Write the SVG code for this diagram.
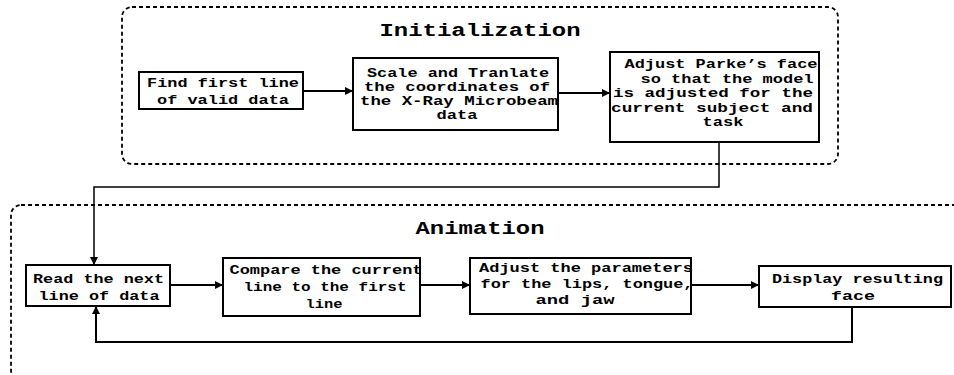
<svg xmlns="http://www.w3.org/2000/svg" width="954" height="375" viewBox="0 0 954 375">
  <style>
    .group { fill: none; stroke: #000; stroke-width: 1.8; stroke-dasharray: 4 3; }
    .box { fill: #fff; stroke: #000; stroke-width: 2; }
    .wire { fill: none; stroke: #000; stroke-width: 2; }
    .thin { fill: none; stroke: #000; stroke-width: 1.5; }
    text { font-family: "Courier New", "Nimbus Mono PS", "FreeMono", "Liberation Mono", monospace; font-weight: bold; fill: #000; text-anchor: middle; }
    .t { font-size: 12.5px; }
    .h { font-size: 18px; }
  </style>
  <defs>
    <marker id="arrow" viewBox="0 0 10 10" refX="10" refY="5" markerWidth="8" markerHeight="8" markerUnits="userSpaceOnUse" orient="auto">
      <path d="M0,0 L10,5 L0,10 z" fill="#000"/>
    </marker>
  </defs>

  <!-- stage frames -->
  <g id="initialization">
    <rect class="group" x="122" y="7" width="716" height="157" rx="10" ry="10"/>
    <text class="h" x="480" y="36" textLength="201" lengthAdjust="spacingAndGlyphs">Initialization</text>
  </g>
  <g id="animation">
    <rect class="group" x="11" y="205" width="960" height="175" rx="10" ry="10"/>
    <text class="h" x="480" y="234" textLength="129" lengthAdjust="spacingAndGlyphs">Animation</text>
  </g>

  <!-- connectors -->
  <g id="connectors">
    <line class="wire" x1="303" y1="91" x2="353" y2="91" marker-end="url(#arrow)"/>
    <line class="wire" x1="558" y1="93" x2="610" y2="93" marker-end="url(#arrow)"/>
    <polyline class="thin" points="719,142 719,187 94,187 94,265" marker-end="url(#arrow)"/>
    <line class="wire" x1="170" y1="285" x2="223" y2="285" marker-end="url(#arrow)"/>
    <line class="wire" x1="420" y1="285" x2="470" y2="285" marker-end="url(#arrow)"/>
    <line class="wire" x1="691" y1="285" x2="759" y2="285" marker-end="url(#arrow)"/>
    <polyline class="wire" points="852,307 852,342 96,342 96,306" marker-end="url(#arrow)"/>
  </g>

  <!-- initialization steps -->
  <g id="find-first-line">
    <rect class="box" x="139" y="72" width="164" height="37"/>
    <text class="t" x="223" y="87" textLength="152" lengthAdjust="spacingAndGlyphs">Find first line</text>
    <text class="t" x="223" y="104" textLength="132" lengthAdjust="spacingAndGlyphs">of valid data</text>
  </g>
  <g id="scale-translate">
    <rect class="box" x="353" y="58" width="205" height="72"/>
    <text class="t" x="458" y="77" textLength="182" lengthAdjust="spacingAndGlyphs">Scale and Tranlate</text>
    <text class="t" x="457" y="91" textLength="186" lengthAdjust="spacingAndGlyphs">the coordinates of</text>
    <text class="t" x="459" y="105" textLength="198" lengthAdjust="spacingAndGlyphs">the X-Ray Microbeam</text>
    <text class="t" x="457" y="119" textLength="41" lengthAdjust="spacingAndGlyphs">data</text>
  </g>
  <g id="adjust-face">
    <rect class="box" x="610" y="52" width="209" height="90"/>
    <text class="t" x="721" y="68" textLength="193" lengthAdjust="spacingAndGlyphs">Adjust Parke’s face</text>
    <text class="t" x="727" y="82.5" textLength="173" lengthAdjust="spacingAndGlyphs">so that the model</text>
    <text class="t" x="713" y="97" textLength="200" lengthAdjust="spacingAndGlyphs">is adjusted for the</text>
    <text class="t" x="712" y="111.5" textLength="202" lengthAdjust="spacingAndGlyphs">current subject and</text>
    <text class="t" x="723" y="126" textLength="41" lengthAdjust="spacingAndGlyphs">task</text>
  </g>

  <!-- animation steps -->
  <g id="read-next-line">
    <rect class="box" x="26" y="265" width="144" height="41"/>
    <text class="t" x="98.5" y="282.5" textLength="131" lengthAdjust="spacingAndGlyphs">Read the next</text>
    <text class="t" x="99" y="299.5" textLength="121" lengthAdjust="spacingAndGlyphs">line of data</text>
  </g>
  <g id="compare-line">
    <rect class="box" x="223" y="258" width="197" height="58"/>
    <text class="t" x="326" y="273.5" textLength="193" lengthAdjust="spacingAndGlyphs">Compare the current</text>
    <text class="t" x="325" y="290.5" textLength="163" lengthAdjust="spacingAndGlyphs">line to the first</text>
    <text class="t" x="324" y="307.5" textLength="37" lengthAdjust="spacingAndGlyphs">line</text>
  </g>
  <g id="adjust-parameters">
    <rect class="box" x="470" y="258" width="221" height="56"/>
    <text class="t" x="586" y="272" textLength="214" lengthAdjust="spacingAndGlyphs">Adjust the parameters</text>
    <text class="t" x="587" y="288" textLength="213" lengthAdjust="spacingAndGlyphs">for the lips, tongue,</text>
    <text class="t" x="575" y="304" textLength="79" lengthAdjust="spacingAndGlyphs">and jaw</text>
  </g>
  <g id="display-face">
    <rect class="box" x="759" y="266" width="192" height="41"/>
    <text class="t" x="857.5" y="282.5" textLength="171" lengthAdjust="spacingAndGlyphs">Display resulting</text>
    <text class="t" x="853" y="299.5" textLength="44" lengthAdjust="spacingAndGlyphs">face</text>
  </g>
</svg>
